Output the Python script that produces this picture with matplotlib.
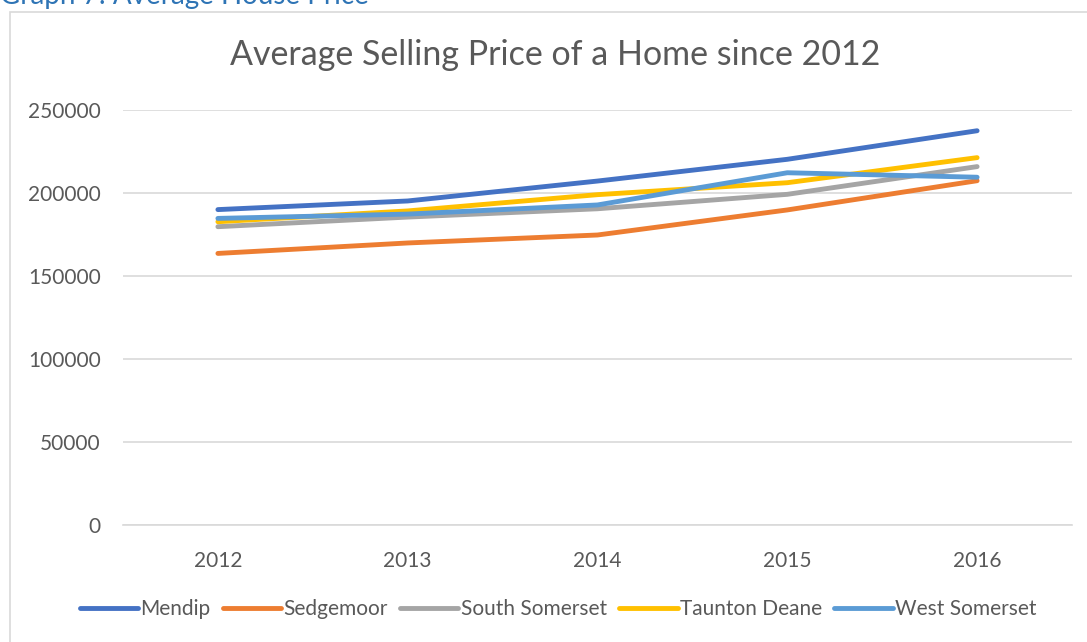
import matplotlib.pyplot as plt
from matplotlib.patches import Rectangle

years = ["2012", "2013", "2014", "2015", "2016"]
mendip = [190000, 195200, 207200, 220300, 237500]
sedgemoor = [163600, 169900, 174700, 189800, 207400]
south_somerset = [179700, 185500, 190500, 199200, 215900]
taunton_deane = [182700, 189200, 199000, 206200, 221300]
west_somerset = [184700, 187300, 192800, 212200, 209500]

series = [
    ("Mendip", mendip, "#4472C4"),
    ("Sedgemoor", sedgemoor, "#ED7D31"),
    ("South Somerset", south_somerset, "#A5A5A5"),
    ("Taunton Deane", taunton_deane, "#FFC000"),
    ("West Somerset", west_somerset, "#5B9BD5"),
]

plt.rcParams['font.family'] = ['Lato', 'DejaVu Sans']

fig = plt.figure(figsize=(10.87, 6.42), dpi=100)
fig.patch.set_facecolor("white")

# chart frame and the caption cut off above it
fig.patches.append(Rectangle((10 / 1087, -0.1), 1.2, 1 - 12 / 642 + 0.1,
                             transform=fig.transFigure, fill=False,
                             edgecolor="#D9D9D9", linewidth=1.2))
fig.text(0.0, 1 - 4 / 642, "Graph 7: Average House Price", color="#2E74B5",
         fontsize=20, ha="left", va="baseline")

ax = fig.add_axes([123 / 1087, 1 - 525 / 642, (1072 - 123) / 1087, (525 - 110) / 642])
x = list(range(len(years)))
for name, vals, col in series:
    ax.plot(x, vals, color=col, linewidth=3.5, solid_capstyle="round",
            solid_joinstyle="round", label=name)

ax.set_xlim(-0.5, 4.5)
ax.set_ylim(0, 250000)
ax.set_yticks(range(0, 250001, 50000))
ax.set_xticks(x)
ax.set_xticklabels(years)
ax.grid(axis="y", color="#D9D9D9", linewidth=1.2)
ax.set_axisbelow(True)
for s in ["top", "left", "right"]:
    ax.spines[s].set_visible(False)
ax.spines["bottom"].set_color("#D9D9D9")
ax.spines["bottom"].set_linewidth(1.2)
ax.tick_params(length=0, labelsize=15, labelcolor="#595959")
ax.tick_params(axis="y", pad=16)
ax.tick_params(axis="x", pad=19)

fig.text(555 / 1087, 1 - 55 / 642, "Average Selling Price of a Home since 2012",
         ha="center", va="center", fontsize=24.5, color="#595959")

fig.legend(loc="center", bbox_to_anchor=(558 / 1087, 1 - 609 / 642), ncol=5,
           frameon=False, fontsize=15, labelcolor="#595959",
           handlelength=2.8, handletextpad=0.1, columnspacing=0.6)

fig.savefig("out.png", dpi=100)
